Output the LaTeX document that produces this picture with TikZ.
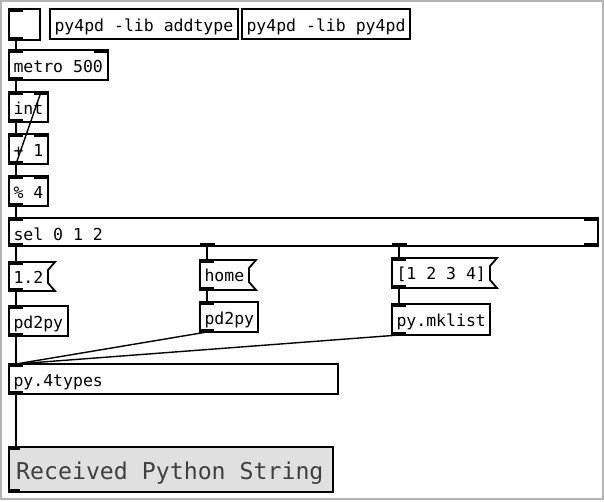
\documentclass[tikz,border=0pt]{standalone}
\usepackage{fontspec}
\setmonofont{DejaVu Sans Mono}
\definecolor{pdgray}{HTML}{E0E0E0}
\definecolor{pdtext}{HTML}{404040}
\definecolor{frame}{HTML}{B4B4B4}
\newcommand\pdbox[6]{% name, x1, y1, width, height, text
  \node[obj, minimum width=#4pt, minimum height=#5pt] (#1) at (#2,#3) {};
  \node[txt] (#1-t) at ([shift={(4.5pt,-22pt)}]#1.north west) {#6};}
\newcommand\pdmsg[6]{%
  \node[msgn, minimum width=#4pt, minimum height=#5pt] (#1) at (#2,#3) {};
  \draw[border] (#1.north west) -- (#1.north east) -- ([shift={(-7pt,-8pt)}]#1.north east)
     -- ([shift={(-7pt,8pt)}]#1.south east) -- (#1.south east) -- (#1.south west) -- cycle;
  \node[txt] (#1-t) at ([shift={(4.5pt,-21.5pt)}]#1.north west) {#6};}
\newcommand\inL[1]{\fill ([shift={(-1pt,1pt)}]#1.north west) rectangle ([shift={(14pt,-3pt)}]#1.north west);}
\newcommand\inR[1]{\fill ([shift={(-14pt,-3pt)}]#1.north east) rectangle ([shift={(1pt,1pt)}]#1.north east);}
\newcommand\outL[1]{\fill ([shift={(-1pt,-1pt)}]#1.south west) rectangle ([shift={(14pt,3pt)}]#1.south west);}
\newcommand\outAt[2]{\fill ([shift={(#2pt,-1pt)}]#1.south west) rectangle ([shift={(#2pt+15pt,3pt)}]#1.south west);}
\newcommand\outR[1]{\fill ([shift={(-14pt,3pt)}]#1.south east) rectangle ([shift={(1pt,-1pt)}]#1.south east);}
\begin{document}
\begin{tikzpicture}[x=1pt,y=-1pt,
  border/.style={draw=black, line width=1.8pt, line join=miter},
  obj/.style={border, rectangle, inner sep=0pt, outer sep=0pt, anchor=north west, fill=white},
  msgn/.style={rectangle, inner sep=0pt, outer sep=0pt, anchor=north west},
  txt/.style={anchor=base west, inner sep=0pt, outer sep=0pt, font=\ttfamily\fontsize{16.5}{18}\selectfont, text=black},
  conn/.style={draw=black, line width=1.8pt},
  thin/.style={draw=black, line width=1.4pt}]
\useasboundingbox (0,0) rectangle (604,501);
\fill[white] (0,0) rectangle (604,501);
\draw[frame, line width=1.6pt] (1,1) rectangle (603,499);

% top row
\node[obj, minimum width=31pt, minimum height=31pt] (bang) at (9,9) {};
\pdbox{addtype}{50}{9}{188}{30}{py4pd -lib addtype}
\pdbox{libpy}{242}{9}{168}{30}{py4pd -lib py4pd}

\pdbox{metro}{9}{50}{99}{30}{metro 500}
\pdbox{int}{9}{92}{39}{30}{int}
\pdbox{plus}{9}{134}{39}{30}{+ 1}
\pdbox{mod}{9}{176}{39}{30}{\% 4}
\pdbox{sel}{9}{218}{589}{28}{sel 0 1 2}

\pdmsg{msga}{9}{262}{46}{29}{1.2}
\pdmsg{msgb}{200}{260}{56}{30}{home}
\pdmsg{msgc}{392}{258}{105}{30}{[1 2 3 4]}

\pdbox{pdpya}{9}{306}{59}{30}{pd2py}
\pdbox{pdpyb}{200}{302}{58}{30}{pd2py}
\pdbox{mklist}{392}{304}{98}{31}{py.mklist}
\pdbox{types}{9}{364}{329}{30}{py.4types}

\node[obj, fill=pdgray, minimum width=324pt, minimum height=45pt] (recv) at (9,447) {};
\node[anchor=base west, inner sep=0pt, font=\ttfamily\fontsize{23.2}{26}\selectfont, text=pdtext] (recv-t) at ([shift={(7pt,-32pt)}]recv.north west) {Received Python String};

% iolets
\inL{bang}\outL{bang}
\inL{metro}\inR{metro}\outL{metro}
\inL{int}\inR{int}\outL{int}
\inL{plus}\inR{plus}\outL{plus}
\inL{mod}\inR{mod}\outL{mod}
\inL{sel}\inR{sel}\outL{sel}\outAt{sel}{191}\outAt{sel}{383}\outR{sel}
\inL{msga}\outL{msga}
\inL{msgb}\outL{msgb}
\inL{msgc}\outL{msgc}
\inL{pdpya}\outL{pdpya}
\inL{pdpyb}\outL{pdpyb}
\inL{mklist}\outL{mklist}
\inL{types}\outL{types}
\fill ([shift={(-1pt,1pt)}]recv.north west) rectangle ([shift={(11pt,-3pt)}]recv.north west);
\fill ([shift={(-1pt,-1pt)}]recv.south west) rectangle ([shift={(11pt,3pt)}]recv.south west);

% connections
\draw[conn] ([xshift=7pt]bang.south west) -- ([xshift=7pt]metro.north west);
\draw[conn] ([xshift=7pt]metro.south west) -- ([xshift=7pt]int.north west);
\draw[conn] ([xshift=7pt]int.south west) -- ([xshift=7pt]plus.north west);
\draw[thin] ([xshift=7pt]plus.south west) -- ([xshift=-7pt]int.north east);
\draw[conn] ([xshift=7pt]plus.south west) -- ([xshift=7pt]mod.north west);
\draw[conn] ([xshift=7pt]mod.south west) -- ([xshift=7pt]sel.north west);
\draw[conn] ([xshift=7pt]sel.south west) -- ([xshift=7pt]msga.north west);
\draw[conn] ([xshift=198pt]sel.south west) -- ([xshift=7pt]msgb.north west);
\draw[conn] ([xshift=390pt]sel.south west) -- ([xshift=7pt]msgc.north west);
\draw[conn] ([xshift=7pt]msga.south west) -- ([xshift=7pt]pdpya.north west);
\draw[conn] ([xshift=7pt]msgb.south west) -- ([xshift=7pt]pdpyb.north west);
\draw[conn] ([xshift=7pt]msgc.south west) -- ([xshift=7pt]mklist.north west);
\draw[conn] ([xshift=7pt]pdpya.south west) -- ([xshift=7pt]types.north west);
\draw[thin] ([xshift=7pt]pdpyb.south west) -- ([xshift=7pt]types.north west);
\draw[thin] ([xshift=7pt]mklist.south west) -- ([xshift=7pt]types.north west);
\draw[conn] ([xshift=7pt]types.south west) -- ([xshift=7pt]recv.north west);
\end{tikzpicture}
\end{document}
